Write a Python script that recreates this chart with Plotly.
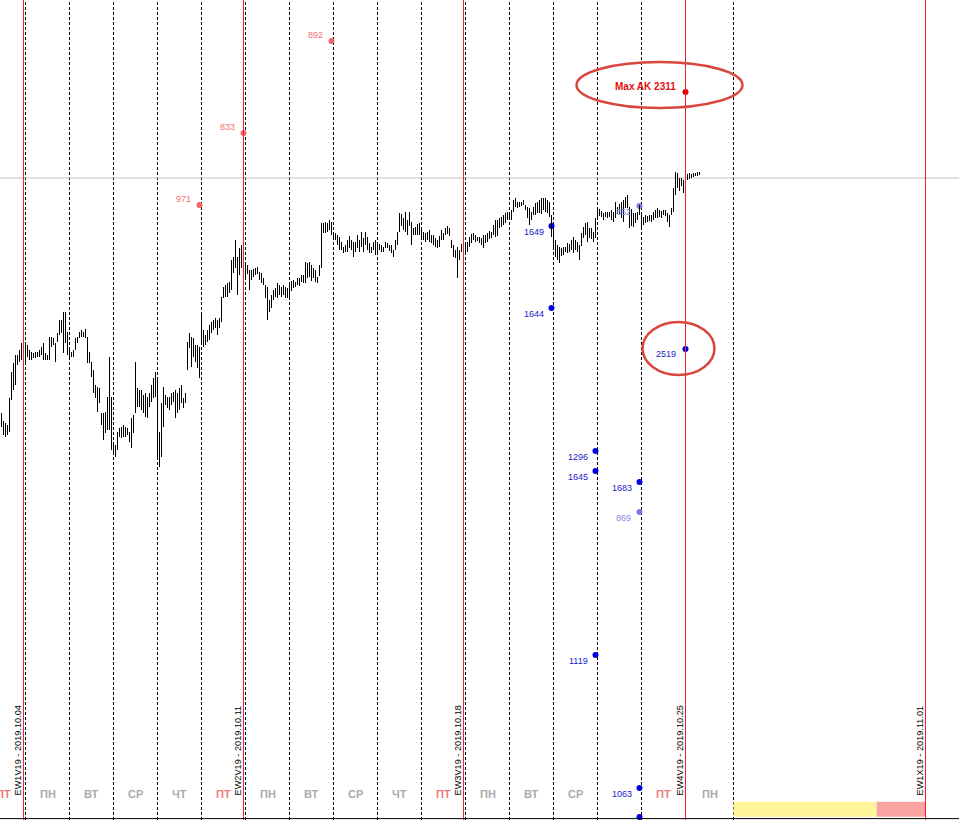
import plotly.graph_objects as go

# ---------------- hourly bars (high / low), ES futures, Oct 2019 ----------------
fri04_hi = [2922.5, 2918.5, 2917.5, 2916.5, 2930, 2943, 2947.5, 2951.5, 2951.5, 2954, 2957.5, 2956.5]
fri04_lo = [2915.5, 2911.5, 2910.5, 2911.5, 2913, 2929, 2934, 2936.5, 2946.5, 2948, 2949, 2948]

mon07_hi = [2956.5, 2956.5, 2954, 2953, 2952.5, 2953, 2953, 2954, 2955.5, 2957.5, 2952.5, 2951.5, 2960.5, 2960.5, 2960, 2957.5, 2962.5, 2969, 2969, 2973, 2973, 2963]
mon07_lo = [2948, 2950.5, 2949, 2949, 2950, 2950, 2950.5, 2950.5, 2951.5, 2949, 2949, 2949, 2949, 2955.5, 2956.5, 2948, 2958, 2961.5, 2962.5, 2952.5, 2957.5, 2951.5]

tue08_hi = [2954, 2953, 2954, 2960, 2960.5, 2963, 2964, 2963, 2964.5, 2960.5, 2953, 2948, 2944, 2936.5, 2935.5, 2935, 2922.5, 2922.5, 2923, 2930.5, 2950.5, 2930.5]
tue08_lo = [2950, 2950.5, 2950.5, 2954, 2957.5, 2960, 2960.5, 2960.5, 2960, 2947.5, 2947.5, 2940.5, 2932.5, 2930, 2923, 2927.5, 2916.5, 2909, 2912.5, 2914, 2914, 2904]

wed09_hi = [2908, 2906.5, 2913, 2915, 2915.5, 2916.5, 2915.5, 2915, 2913, 2920, 2921.5, 2948, 2935, 2934, 2934, 2931.5, 2932.5, 2930.5, 2932.5, 2936.5, 2940, 2943]
wed09_lo = [2903, 2900.5, 2904, 2910.5, 2910, 2910.5, 2910.5, 2911.5, 2908, 2905, 2912.5, 2922.5, 2925.5, 2925.5, 2924, 2922.5, 2920.5, 2920, 2925.5, 2928, 2930, 2930.5]

thu10_hi = [2939, 2913, 2927.5, 2935.5, 2931.5, 2930.5, 2930.5, 2932.5, 2933, 2934, 2932.5, 2935, 2936.5, 2930, 2932.5, 2958, 2962.5, 2960.5, 2960, 2956.5, 2956.5, 2955.5]
thu10_lo = [2899, 2895.5, 2900.5, 2915.5, 2926.5, 2925, 2924, 2926.5, 2928, 2920, 2922.5, 2924, 2927.5, 2925, 2927.5, 2944, 2955, 2945.5, 2950.5, 2948, 2945, 2940]

fri11_hi = [2971.5, 2964, 2961.5, 2964, 2966.5, 2968, 2969, 2970, 2969, 2970, 2980.5, 2985.5, 2986.5, 2987.5, 2988, 2999, 3000.5, 3009, 3000.5, 3005, 3006.5, 3001.5]
fri11_lo = [2957.5, 2955.5, 2956.5, 2958, 2959, 2962.5, 2964, 2965, 2961.5, 2965, 2968, 2980, 2980.5, 2980.5, 2982.5, 2984, 2992.5, 2995, 2981.5, 2991.5, 2995, 2991.5]

mon14_hi = [2997.5, 2996.5, 2994, 2994, 2994.5, 2995, 2995.5, 2993, 2992.5, 2990, 2986.5, 2985.5, 2979, 2981.5, 2984, 2985, 2987.5, 2986.5, 2985.5, 2986.5, 2985.5, 2985]
mon14_lo = [2989, 2992, 2984, 2989, 2990.5, 2991.5, 2992, 2989, 2987.5, 2986.5, 2980, 2969, 2973, 2975, 2979, 2980.5, 2980, 2981.5, 2980.5, 2981.5, 2980, 2980]

tue15_hi = [2986.5, 2988.5, 2989, 2988, 2990, 2990, 2991.5, 2991.5, 2998, 2997.5, 2998, 2996.5, 2995, 2994, 2990.5, 2996.5, 3017.5, 3017.5, 3018, 3017.5, 3019, 3018]
tue15_lo = [2980.5, 2983.5, 2985, 2985.5, 2986.5, 2986, 2988, 2987.5, 2987.5, 2990, 2990.5, 2988.5, 2990, 2988, 2987.5, 2991, 2995, 3012.5, 3012.5, 3013, 3014, 3011.5]

wed16_hi = [3013, 3012.5, 3011.5, 3010.5, 3008, 3005.5, 3006.5, 3009, 3011, 3009, 3008, 3008, 3011.5, 3009, 3013, 3010, 3013, 3010.5, 3007.5, 3005.5, 3008, 3009]
wed16_lo = [3010, 3009, 3006.5, 3004, 3004, 3002.5, 3003, 3003, 3005, 3004, 3000.5, 3003, 3005, 3003, 3005.5, 3003, 3006.5, 3004, 3002.5, 3002.5, 3004, 3001.5]

thu17_hi = [3008, 3007, 3006.5, 3005.5, 3008, 3007.5, 3006.5, 3006.5, 3004, 3009, 3013, 3022.5, 3022, 3020, 3023, 3019, 3023, 3018, 3015, 3015.5, 3017, 3017.5]
thu17_lo = [3001.5, 3004, 3003, 3003, 3005, 3005, 3003.5, 3002.5, 3000.5, 3004, 3006.5, 3013, 3016, 3014, 3013, 3011.5, 3016, 3006.5, 3011.5, 3011.5, 3011.5, 3011.5]

fri18_hi = [3014, 3013, 3012.5, 3013, 3014, 3011.5, 3011.5, 3010, 3009, 3011, 3014, 3012.5, 3015, 3016, 3015, 3009, 3006.5, 3004, 3005.5, 3004, 3007, 3008]
fri18_lo = [3010, 3009, 3008, 3009, 3008, 3007.5, 3006.5, 3005.5, 3005, 3005.5, 3009, 3009, 3011.5, 3012, 3011, 3005, 3000.5, 3000, 2990, 2999, 3003, 3005]

mon21_hi = [3006.5, 3008, 3010.5, 3012, 3012.5, 3011.5, 3010.5, 3010.5, 3010, 3011.5, 3011.5, 3012.5, 3013.5, 3013, 3016.5, 3019, 3019, 3020, 3020.5, 3021.5, 3022.5, 3023]
mon21_lo = [3003, 3003, 3005.5, 3007.5, 3009, 3008, 3008.5, 3007.5, 3006.5, 3005, 3007.5, 3008, 3009.5, 3010, 3011.5, 3010.5, 3011, 3015, 3015.5, 3016.5, 3017.5, 3019]

tue22_hi = [3023, 3024, 3029, 3030, 3028, 3028, 3028, 3029, 3026.5, 3025.5, 3025, 3023, 3025.5, 3027.5, 3028, 3029, 3030, 3030, 3030, 3029, 3028, 3021.5]
tue22_lo = [3019, 3019, 3023, 3025.5, 3025, 3025.5, 3026, 3026.5, 3024, 3020, 3016.5, 3019, 3021.5, 3021.5, 3022.5, 3022.5, 3022, 3024, 3023, 3022.5, 3020.5, 3010.5]

wed23_hi = [3014, 3009, 3006.5, 3005.5, 3005, 3005.5, 3005.5, 3007.5, 3007, 3009, 3010.5, 3009, 3008, 3006.5, 3012.5, 3015.5, 3017.5, 3018, 3015, 3015, 3013, 3020]
wed23_lo = [3005.5, 3000.5, 2999, 2997.5, 3001, 3001.5, 3003, 3002.5, 3003, 3004, 3002.5, 3004, 3003, 2999, 3006, 3010, 3011.5, 3008, 3010, 3009.5, 3008, 3010]

thu24_hi = [3024, 3024.5, 3023.5, 3022.5, 3023, 3023, 3023, 3024, 3023, 3028, 3025.5, 3027, 3028, 3029, 3030.5, 3031.5, 3025.5, 3024.5, 3022.5, 3022.5, 3023, 3026.5]
thu24_lo = [3020, 3021, 3020.5, 3019, 3020.5, 3020, 3020.5, 3019, 3018, 3020, 3022, 3021.5, 3020, 3018, 3025, 3025, 3015, 3016, 3015.5, 3017.5, 3019, 3021.5]

fri25_hi = [3021.5, 3020.5, 3021.5, 3021, 3021.5, 3021.5, 3023, 3024, 3025, 3024, 3023.5, 3024, 3024, 3022.5, 3021.5, 3025, 3035, 3043, 3042.5, 3040, 3040, 3039]
fri25_lo = [3015.5, 3016.5, 3017.5, 3018, 3018.5, 3018, 3019, 3020, 3020, 3020.5, 3020, 3021.5, 3021, 3018, 3015.5, 3021.5, 3023, 3031.5, 3035, 3033.5, 3036, 3032.5]

mon28_hi = [3041, 3042, 3042.5, 3042, 3042.5, 3042.5, 3043, 3043]
mon28_lo = [3037.5, 3039, 3039.5, 3040, 3040.5, 3041, 3041, 3041.5]

last_price = 3040

# ---------------- option levels ----------------
call_bar = [87, 109, 153]
call_price = [3026.5, 3062.5, 3108.5]
call_label = ["971", "833", "892"]

put_bar = [263, 263, 285, 285, 307, 285, 307, 307]
put_price = [3016, 2975, 2903.5, 2893.5, 2888, 2801.5, 2735, 2720.5]
put_label = ["1649", "1644", "1296", "1645", "1683", "1119", "1063", ""]

weak_put_bar = [307, 307]
weak_put_price = [3026, 2873]
weak_put_label = ["852", "869"]

max_call_bar, max_call_price, max_call_label = 330, 3083, "Max AK 2311"
max_put_bar, max_put_price, max_put_label = 330, 2954.5, "2519"

# ---------------- calendar ----------------
day_names = ["ПТ", "ПН", "ВТ", "СР", "ЧТ", "ПТ", "ПН", "ВТ", "СР", "ЧТ", "ПТ",
             "ПН", "ВТ", "СР", "ЧТ", "ПТ", "ПН"]
day_bounds = [-22, 0, 22, 44, 66, 88, 110, 132, 154, 176, 198, 220, 242, 264, 286, 308, 330, 354]
week_bar = [-1, 109, 219, 330, 450]
week_label = ["EW1V19 - 2019.10.04", "EW2V19 - 2019.10.11", "EW3V19 - 2019.10.18",
              "EW4V19 - 2019.10.25", "EW1X19 - 2019.11.01"]

# ---------------- build ----------------
highs = (fri04_hi + mon07_hi + tue08_hi + wed09_hi + thu10_hi + fri11_hi + mon14_hi + tue15_hi
         + wed16_hi + thu17_hi + fri18_hi + mon21_hi + tue22_hi + wed23_hi + thu24_hi + fri25_hi + mon28_hi)
lows = (fri04_lo + mon07_lo + tue08_lo + wed09_lo + thu10_lo + fri11_lo + mon14_lo + tue15_lo
        + wed16_lo + thu17_lo + fri18_lo + mon21_lo + tue22_lo + wed23_lo + thu24_lo + fri25_lo + mon28_lo)
first_bar = -len(fri04_hi)
bar_idx = list(range(first_bar, first_bar + len(highs)))

bx, by = [], []
for i, h, l in zip(bar_idx, highs, lows):
    bx += [i, i, None]
    by += [l, h, None]

W, H = 959, 820
x0 = -12.75
x1 = x0 + W / 2.0
y0, y1 = 2719, 3129

fig = go.Figure()

shapes = []
# day separators (the one under an expiry line is hidden by it)
for b in day_bounds[1:]:
    if b in week_bar:
        continue
    shapes.append(dict(type="line", xref="x", yref="paper", x0=b, x1=b, y0=0, y1=1,
                       line=dict(color="black", width=1, dash="3px,2px"), layer="below"))
# week expirations
for b in week_bar:
    shapes.append(dict(type="line", xref="x", yref="paper", x0=b, x1=b, y0=0, y1=1,
                       line=dict(color="#f0202c", width=1), layer="above"))
# last price line
shapes.append(dict(type="line", xref="paper", yref="y", x0=0, x1=1, y0=last_price, y1=last_price,
                   line=dict(color="#c0c0c0", width=1), layer="below"))
# bottom colored bands
shapes.append(dict(type="rect", xref="x", yref="paper", x0=354, x1=425.6, y0=0.004, y1=0.0223,
                   fillcolor="#fff59a", line=dict(width=0), layer="below"))
shapes.append(dict(type="rect", xref="x", yref="paper", x0=425.6, x1=450, y0=0.004, y1=0.0223,
                   fillcolor="#f9a3a3", line=dict(width=0), layer="below"))
# bottom axis line
shapes.append(dict(type="line", xref="paper", yref="paper", x0=0, x1=1, y0=0.0017, y1=0.0017,
                   line=dict(color="black", width=1)))
# ellipses
shapes.append(dict(type="circle", xref="x", yref="y", xsizemode="pixel", ysizemode="pixel",
                   xanchor=max_call_bar, yanchor=max_call_price, x0=-109, x1=57, y0=-16, y1=30,
                   line=dict(color="#d9463e", width=2.5)))
shapes.append(dict(type="circle", xref="x", yref="y", xsizemode="pixel", ysizemode="pixel",
                   xanchor=max_put_bar, yanchor=max_put_price, x0=-43, x1=29, y0=-26, y1=27,
                   line=dict(color="#d9463e", width=2.5)))

# dots (under bars)
fig.add_trace(go.Scatter(x=weak_put_bar, y=weak_put_price, mode="markers",
                         marker=dict(size=6, color="#7878e6"), hoverinfo="skip"))
fig.add_trace(go.Scatter(x=call_bar, y=call_price, mode="markers",
                         marker=dict(size=6, color="#f06868"), hoverinfo="skip"))
fig.add_trace(go.Scatter(x=put_bar + [max_put_bar], y=put_price + [max_put_price], mode="markers",
                         marker=dict(size=6, color="#0000e0"), hoverinfo="skip"))
fig.add_trace(go.Scatter(x=[max_call_bar], y=[max_call_price], mode="markers",
                         marker=dict(size=6, color="#e80000"), hoverinfo="skip"))
# bars
fig.add_trace(go.Scatter(x=bx, y=by, mode="lines", line=dict(color="black", width=1),
                         hoverinfo="skip", connectgaps=False))

ann = []
numfont = "Liberation Sans, Arial, sans-serif"

# day names
for k, name in enumerate(day_names):
    c = (day_bounds[k] + day_bounds[k + 1]) / 2.0
    col = "#ee7b7b" if name == "ПТ" else "#aaaaaa"
    ann.append(dict(x=c, y=(H - 794) / H, xref="x", yref="paper", text="<b>" + name + "</b>",
                    showarrow=False, xanchor="center", yanchor="middle",
                    font=dict(family=numfont, size=11, color=col)))
# week labels
for b, t in zip(week_bar, week_label):
    ann.append(dict(x=b, y=(H - 751) / H, xref="x", yref="paper", text=t, showarrow=False,
                    textangle=-90, xanchor="center", yanchor="middle", xshift=-6,
                    font=dict(family=numfont, size=9.2, color="black")))

for b, p, t in zip(call_bar, call_price, call_label):
    ann.append(dict(x=b, y=p, text=t, showarrow=False, xanchor="right", yanchor="middle",
                    xshift=-7, yshift=6, font=dict(family=numfont, size=9, color="#f07070")))
for b, p, t in zip(put_bar, put_price, put_label):
    if t:
        ann.append(dict(x=b, y=p, text=t, showarrow=False, xanchor="right", yanchor="middle",
                        xshift=-7, yshift=-6, bgcolor="white" if p < 2760 else None, borderpad=0,
                        font=dict(family=numfont, size=9, color="#2020c8")))
for b, p, t in zip(weak_put_bar, weak_put_price, weak_put_label):
    ann.append(dict(x=b, y=p, text=t, showarrow=False, xanchor="right", yanchor="middle",
                    xshift=-7, yshift=-6, font=dict(family=numfont, size=9, color="#8a8ae0")))
ann.append(dict(x=max_put_bar, y=max_put_price, text=max_put_label, showarrow=False, xanchor="right",
                yanchor="middle", xshift=-8, yshift=-5, font=dict(family=numfont, size=9, color="#2020c8")))
ann.append(dict(x=max_call_bar, y=max_call_price, text="<b>" + max_call_label + "</b>", showarrow=False,
                xanchor="right", yanchor="middle", xshift=-8, yshift=6,
                font=dict(family=numfont, size=10, color="#e01010")))

fig.update_layout(
    width=W, height=H, margin=dict(l=0, r=0, t=0, b=0),
    paper_bgcolor="white", plot_bgcolor="white", showlegend=False,
    xaxis=dict(range=[x0, x1], visible=False, fixedrange=True),
    yaxis=dict(range=[y0, y1], visible=False, fixedrange=True),
    shapes=shapes, annotations=ann, hovermode=False,
)

fig.write_html("out.html", config={"displayModeBar": False},
               post_script="document.body.style.margin='0';document.body.style.overflow='hidden';")
